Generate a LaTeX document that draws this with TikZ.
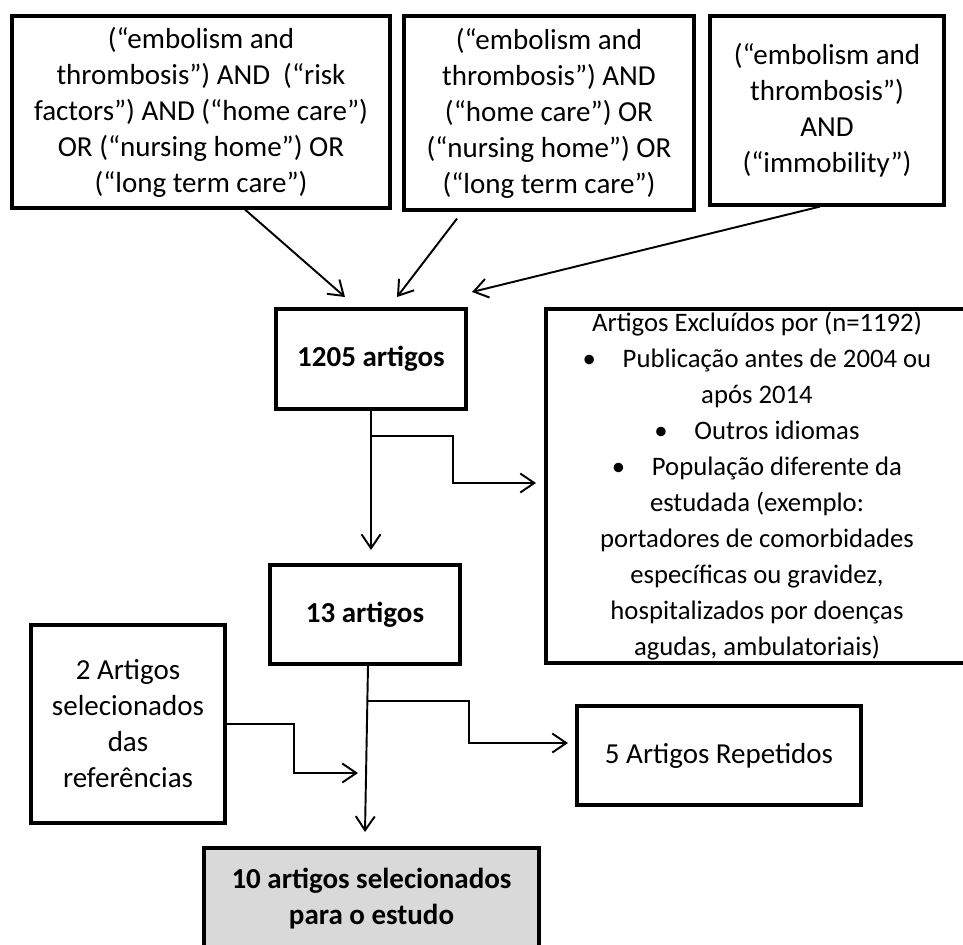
\documentclass[tikz,border=0pt]{standalone}
\usepackage{fontspec}
\setmainfont{Carlito}
\usetikzlibrary{arrows.meta,calc}
\definecolor{boxgray}{RGB}{217,217,217}
\begin{document}
\begin{tikzpicture}[x=0.02cm, y=-0.02cm,
    box/.style={draw, line width=1.8pt, align=center, inner sep=0pt,
        font=\fontsize{16.5pt}{20.5pt}\selectfont},
    conn/.style={line width=1.1pt, -{Straight Barb[length=0.28cm,width=0.38cm,line width=1.1pt]}}]
        \useasboundingbox (0,0) rectangle (963,944);
        \node[box, minimum width=7.56cm, minimum height=3.84cm] (qone) at(201,112)
            {(“embolism and\\ thrombosis”) AND~ (“risk\\ factors”) AND (“home care”)\\ OR (“nursing home”) OR\\ (“long term care”)};
        \node[box, minimum width=5.8cm, minimum height=3.88cm] (qtwo) at(549,113)
            {(“embolism and\\ thrombosis”) AND\\ (“home care”) OR\\ (“nursing home”) OR\\ (“long term care”)};
        \node[box, minimum width=4.68cm, minimum height=3.78cm] (qthree) at(827,110.5)
            {(“embolism and\\ thrombosis”)\\ AND\\ (“immobility”)};
        \node[box, minimum width=3.8cm, minimum height=2cm] (found) at(371,359)
            {\bfseries 1205 artigos};
        \node[box, minimum width=8.44cm, minimum height=7.08cm,
            font=\fontsize{15.2pt}{20.5pt}\selectfont] (excl) at(757,486)
            {Artigos Excluídos por (n=1192)\\
             •\quad Publicação antes de 2004 ou\\ após 2014\\
             •\quad Outros idiomas\\
             •\quad População diferente da\\ estudada (exemplo:\\
             portadores de comorbidades\\ específicas ou gravidez,\\
             hospitalizados por doenças\\ agudas, ambulatoriais)};
        \node[box, minimum width=3.8cm, minimum height=1.98cm] (kept) at(365,614.5)
            {\bfseries 13 artigos};
        \node[box, minimum width=3.88cm, minimum height=3.96cm] (refs) at(128,724)
            {2 Artigos\\ selecionados\\ das\\ referências};
        \node[box, minimum width=5.68cm, minimum height=1.98cm] (rep) at(719,755.5)
            {5 Artigos Repetidos};
        \node[box, fill=boxgray, minimum width=6.7cm, minimum height=2.02cm] (final) at(371.5,898.5)
            {\bfseries 10 artigos selecionados\\ \bfseries para o estudo};
        \coordinate (tone) at(345,297);
        \coordinate (ttwo) at(397,297);
        \coordinate (tthree) at(472,292);
        \draw[conn]([xshift=0.88cm]qone.south) to (tone);
        \draw[conn]([xshift=-1.84cm,yshift=-0.14cm]qtwo.south) to (ttwo);
        \draw[conn]([xshift=-0.14cm]qthree.south) to (tthree);
        \coordinate (down1) at(371,550);
        \coordinate (split1) at($(found.south)+(0,25)$);
        \coordinate (out1) at(536,483);
            \draw[conn](found.south) -- (down1);
            \draw[conn](split1) -- ++(82,0) |- (out1);
        \coordinate (down2) at(365,832);
        \coordinate (split2) at($(kept.south)+(3,35)$);
        \coordinate (out2) at(568,743);
        \coordinate (in2) at(358,773);
            \draw[conn]([xshift=0.06cm]kept.south) -- (down2);
            \draw[conn](split2) -- ++(101,0) |- (out2);
            \draw[conn](refs.east) -- ++(67,0) |- (in2);
        \end{tikzpicture}
\end{document}
